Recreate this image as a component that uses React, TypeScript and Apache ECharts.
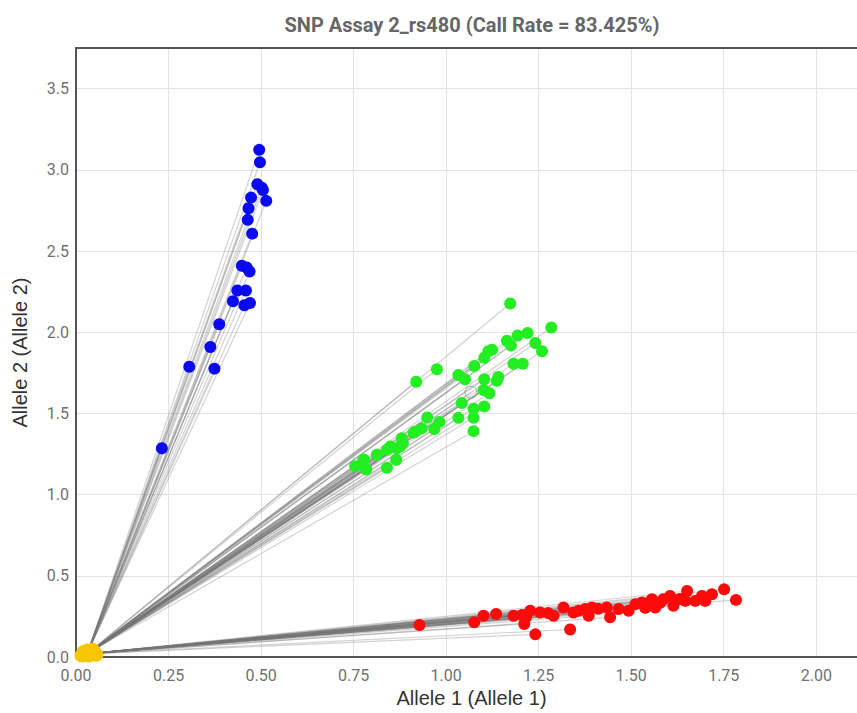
import React, { useEffect, useRef } from "react";
import * as echarts from "echarts";

const TITLE = "SNP Assay 2_rs480 (Call Rate = 83.425%)";
const X_NAME = "Allele 1 (Allele 1)";
const Y_NAME = "Allele 2 (Allele 2)";

const ORIGIN: [number, number] = [0.03, 0.02];

const bluePoints: [number, number][] = [
  [0.495, 3.123], [0.497, 3.046], [0.49, 2.911], [0.502, 2.89], [0.505, 2.876],
  [0.473, 2.829], [0.514, 2.809], [0.466, 2.763], [0.464, 2.692], [0.476, 2.607],
  [0.448, 2.409], [0.461, 2.399], [0.469, 2.374], [0.436, 2.257], [0.459, 2.257],
  [0.424, 2.191], [0.455, 2.166], [0.47, 2.18], [0.387, 2.049], [0.363, 1.909],
  [0.306, 1.788], [0.374, 1.776], [0.232, 1.286],
];

const greenPoints: [number, number][] = [
  [1.173, 2.177], [1.284, 2.029], [1.22, 1.995], [1.193, 1.98], [1.164, 1.948],
  [1.175, 1.919], [1.241, 1.934], [1.259, 1.883], [1.124, 1.893], [1.114, 1.883],
  [1.103, 1.843], [1.076, 1.792], [1.182, 1.806], [1.207, 1.806], [0.975, 1.772],
  [0.919, 1.695], [1.033, 1.737], [1.051, 1.711], [1.103, 1.711], [1.141, 1.725],
  [1.137, 1.701], [1.101, 1.644], [1.117, 1.624], [1.042, 1.564], [1.074, 1.529],
  [1.103, 1.543], [1.033, 1.473], [1.074, 1.473], [1.074, 1.391], [0.949, 1.475],
  [0.982, 1.448], [0.968, 1.404], [0.934, 1.408], [0.912, 1.382], [0.88, 1.347],
  [0.883, 1.317], [0.867, 1.286], [0.849, 1.297], [0.84, 1.276], [0.865, 1.215],
  [0.813, 1.246], [0.84, 1.165], [0.778, 1.215], [0.754, 1.175], [0.784, 1.155],
  [0.776, 1.215], [0.876, 1.297], [0.916, 1.388],
];

const hollowPoints: [number, number][] = [[1.067, 1.63]];

const redPoints: [number, number][] = [
  [0.928, 0.198], [1.076, 0.214], [1.101, 0.255], [1.135, 0.265], [1.182, 0.255],
  [1.205, 0.259], [1.216, 0.245], [1.211, 0.204], [1.241, 0.14], [1.254, 0.275],
  [1.276, 0.271], [1.29, 0.255], [1.317, 0.305], [1.335, 0.17], [1.344, 0.275],
  [1.358, 0.285], [1.376, 0.296], [1.394, 0.305], [1.385, 0.255], [1.434, 0.305],
  [1.443, 0.245], [1.466, 0.296], [1.493, 0.285], [1.511, 0.326], [1.529, 0.336],
  [1.556, 0.356], [1.565, 0.305], [1.587, 0.356], [1.605, 0.376], [1.614, 0.316],
  [1.651, 0.407], [1.646, 0.346], [1.673, 0.346], [1.691, 0.376], [1.718, 0.387],
  [1.751, 0.417], [1.783, 0.352], [1.227, 0.285], [1.411, 0.297], [1.538, 0.303],
  [1.578, 0.334], [1.632, 0.358], [1.7, 0.346],
];

const yellowPoints: [number, number][] = [
  [0.02, 0.03], [0.03, 0.04], [0.04, 0.02], [0.05, 0.03], [0.035, 0.01],
  [0.045, 0.045], [0.025, 0.015], [0.055, 0.015], [0.015, 0.01],
];

const X_MIN = 0;
const X_MAX = 2.11;
const X_STEP = 0.25;
const Y_MIN = 0;
const Y_MAX = 3.75;
const Y_STEP = 0.5;

export default function App() {
  const ref = useRef<HTMLDivElement>(null);

  useEffect(() => {
    if (!ref.current) return;
    const chart = echarts.init(ref.current, undefined, { renderer: "svg" });
    const allPoints = [...bluePoints, ...greenPoints, ...hollowPoints, ...redPoints];
    const lineData = allPoints.map((p) => ({ coords: [ORIGIN, p] }));
    const font = "Roboto, 'Noto Sans', sans-serif";
    const nameFont = "'Liberation Sans', Arial, sans-serif";
    const scatterBase = {
      type: "scatter" as const,
      symbol: "circle",
      symbolSize: 12,
      z: 5,
      silent: true,
    };
    chart.setOption({
      animation: false,
      backgroundColor: "#ffffff",
      title: {
        text: TITLE,
        left: 467,
        textAlign: "center",
        top: 10,
        textStyle: {
          fontFamily: font,
          fontSize: 20,
          fontWeight: "bold",
          color: "#666666",
        },
      },
      grid: { left: 76, right: 0, top: 48, bottom: 46, containLabel: false },
      xAxis: [
        {
          type: "value",
          min: X_MIN,
          max: X_MAX,
          interval: X_STEP,
          name: X_NAME,
          nameLocation: "middle",
          nameGap: 22,
          nameTextStyle: {
            fontFamily: nameFont,
            fontSize: 20,
            color: "#333333",
            padding: [0, 0, 0, 10],
          },
          axisLine: { show: true, lineStyle: { color: "#555555", width: 2 } },
          axisTick: { show: false },
          axisLabel: {
            fontFamily: font,
            fontSize: 16,
            color: "#707070",
            margin: 10,
            showMaxLabel: false,
            formatter: (v: number) => v.toFixed(2),
          },
          splitLine: { show: true, lineStyle: { color: "#e2e2e2", width: 1 } },
        },
        {
          type: "value",
          position: "top",
          min: X_MIN,
          max: X_MAX,
          interval: X_STEP,
          axisLine: { show: true, lineStyle: { color: "#555555", width: 2 } },
          axisTick: { show: false },
          axisLabel: { show: false },
          splitLine: { show: false },
        },
      ],
      yAxis: {
        type: "value",
        min: Y_MIN,
        max: Y_MAX,
        interval: Y_STEP,
        name: Y_NAME,
        nameLocation: "middle",
        nameGap: 46,
        nameTextStyle: { fontFamily: nameFont, fontSize: 20, color: "#333333" },
        axisLine: { show: true, lineStyle: { color: "#555555", width: 2 } },
        axisTick: { show: false },
        axisLabel: {
          fontFamily: font,
          fontSize: 16,
          color: "#707070",
          margin: 7,
          showMaxLabel: false,
          formatter: (v: number) => v.toFixed(1),
        },
        splitLine: { show: true, lineStyle: { color: "#e2e2e2", width: 1 } },
      },
      series: [
        {
          type: "lines",
          coordinateSystem: "cartesian2d",
          xAxisIndex: 0,
          yAxisIndex: 0,
          data: lineData,
          silent: true,
          z: 2,
          lineStyle: { color: "#757575", width: 1.2, opacity: 0.33 },
        },
        { ...scatterBase, name: "blue", data: bluePoints, itemStyle: { color: "#0a0af0", opacity: 1 } },
        { ...scatterBase, name: "green", data: greenPoints, itemStyle: { color: "#22ee22", opacity: 1 } },
        {
          ...scatterBase,
          name: "hollow",
          data: hollowPoints,
          itemStyle: { color: "rgba(255,255,255,0)", borderColor: "#7aa07a", borderWidth: 1 },
        },
        { ...scatterBase, name: "red", data: redPoints, itemStyle: { color: "#ff0a0a", opacity: 1 } },
        {
          ...scatterBase,
          name: "yellow",
          data: yellowPoints,
          symbolSize: 14,
          clip: false,
          z: 6,
          itemStyle: { color: "#f7c400", opacity: 1 },
        },
      ],
    });
    return () => chart.dispose();
  }, []);

  return (
    <div
      ref={ref}
      style={{ position: "absolute", left: 0, top: 0, width: 857, height: 713 }}
    />
  );
}
